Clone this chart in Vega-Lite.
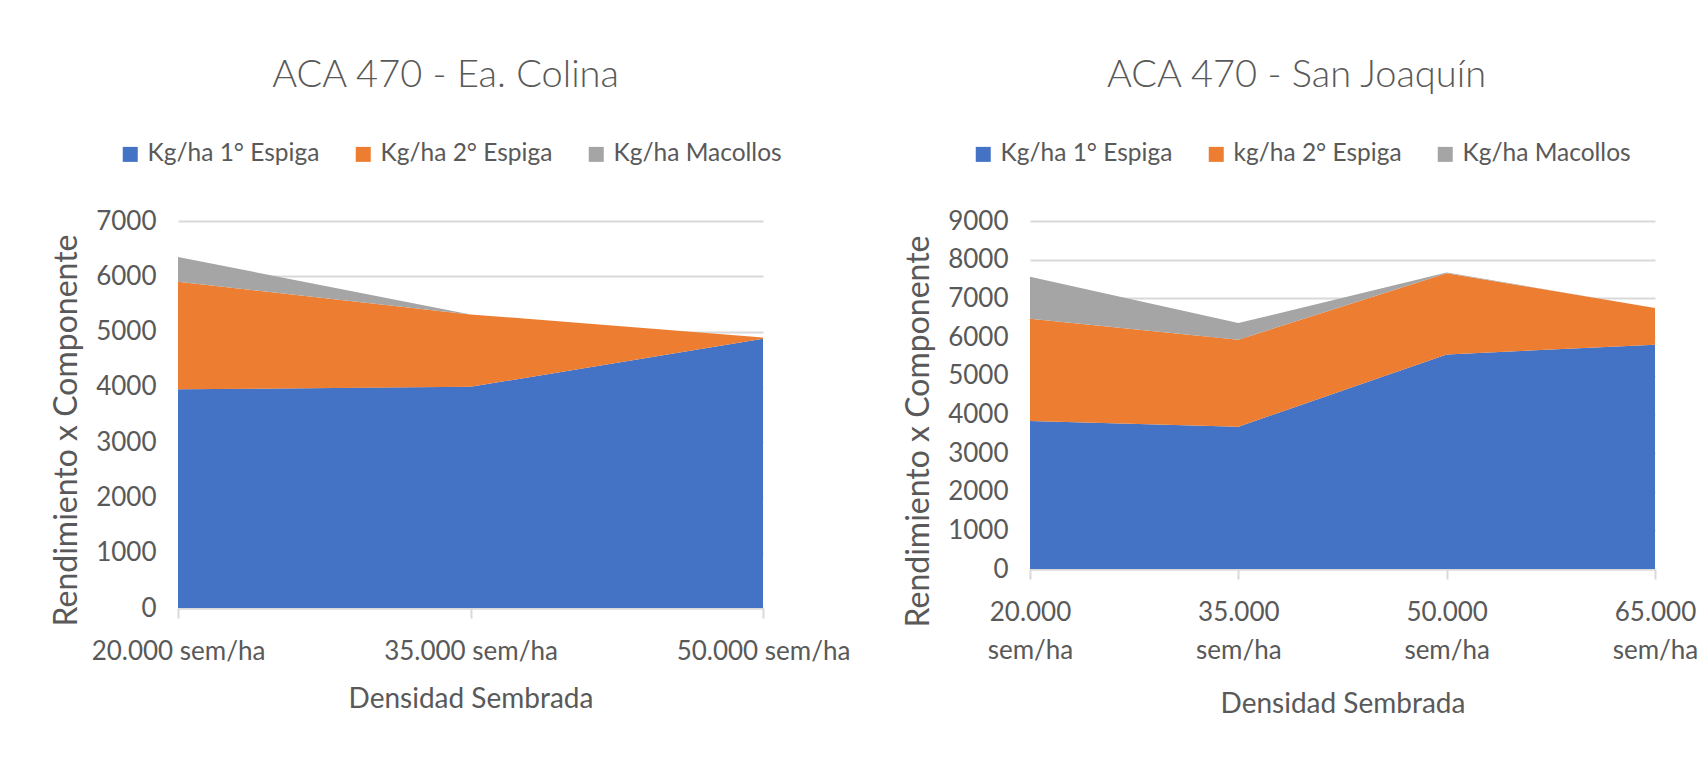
{
  "$schema": "https://vega.github.io/schema/vega-lite/v6.json",
  "background": "white",
  "padding": {"left": 50, "top": 57, "right": 0, "bottom": 0},
  "spacing": 52,
  "config": {
    "font": "Lato",
    "view": {"stroke": null},
    "axis": {
      "labelColor": "#595959",
      "titleColor": "#595959",
      "labelFont": "Lato",
      "titleFont": "Lato",
      "gridColor": "#D9D9D9",
      "gridWidth": 2,
      "domainColor": "#D9D9D9",
      "domainWidth": 2,
      "tickColor": "#D9D9D9",
      "tickWidth": 2
    },
    "title": {"font": "Lato", "fontSize": 38, "fontWeight": 300, "color": "#595959"},
    "legend": {
      "orient": "none",
      "direction": "horizontal",
      "columns": 3,
      "symbolType": "square",
      "symbolSize": 225,
      "symbolStrokeWidth": 0,
      "labelFont": "Lato",
      "labelFontSize": 24.5,
      "labelColor": "#595959",
      "labelOffset": 5,
      "labelLimit": 400,
      "columnPadding": 31,
      "title": null
    }
  },
  "resolve": {
    "scale": {"color": "independent", "y": "independent", "x": "independent"},
    "legend": {"color": "independent"}
  },
  "hconcat": [
    {
      "title": {"text": "ACA 470 - Ea. Colina", "anchor": "middle", "frame": "group", "offset": 47, "dx": -25},
      "width": 585,
      "height": 387,
      "data": {
        "values": [
          {"densidad": "20.000 sem/ha", "serie": "Kg/ha 1° Espiga", "orden": 1, "kg": 3955},
          {"densidad": "20.000 sem/ha", "serie": "Kg/ha 2° Espiga", "orden": 2, "kg": 1945},
          {"densidad": "20.000 sem/ha", "serie": "Kg/ha Macollos", "orden": 3, "kg": 450},
          {"densidad": "35.000 sem/ha", "serie": "Kg/ha 1° Espiga", "orden": 1, "kg": 4000},
          {"densidad": "35.000 sem/ha", "serie": "Kg/ha 2° Espiga", "orden": 2, "kg": 1310},
          {"densidad": "35.000 sem/ha", "serie": "Kg/ha Macollos", "orden": 3, "kg": 0},
          {"densidad": "50.000 sem/ha", "serie": "Kg/ha 1° Espiga", "orden": 1, "kg": 4870},
          {"densidad": "50.000 sem/ha", "serie": "Kg/ha 2° Espiga", "orden": 2, "kg": 25},
          {"densidad": "50.000 sem/ha", "serie": "Kg/ha Macollos", "orden": 3, "kg": 0}
        ]
      },
      "mark": {"type": "area"},
      "encoding": {
        "x": {
          "field": "densidad", "type": "ordinal", "sort": null,
          "scale": {"type": "point", "padding": 0},
          "axis": {"title": "Densidad Sembrada", "labelAngle": 0, "grid": false, "tickSize": 10, "labelPadding": 20, "titlePadding": 21, "labelFontSize": 26, "titleFontSize": 28, "titleFontWeight": "normal"}
        },
        "y": {
          "field": "kg", "type": "quantitative", "stack": "zero",
          "scale": {"domain": [0, 7000]},
          "axis": {"title": "Rendimiento x Componente", "values": [0, 1000, 2000, 3000, 4000, 5000, 6000, 7000], "format": "d", "domain": false, "ticks": false, "labelPadding": 22, "titlePadding": 12, "titleY": 209, "labelFontSize": 26, "titleFontSize": 32, "titleFontWeight": "normal"}
        },
        "color": {
          "field": "serie", "type": "nominal", "sort": null,
          "scale": {"domain": ["Kg/ha 1° Espiga", "Kg/ha 2° Espiga", "Kg/ha Macollos"], "range": ["#4472C4", "#ED7D31", "#A5A5A5"]},
          "legend": {"legendX": -60, "legendY": -79}
        },
        "order": {"field": "orden", "type": "quantitative"}
      }
    },
    {
      "title": {"text": "ACA 470 - San Joaquín", "anchor": "middle", "frame": "group", "offset": 47, "dx": -46},
      "width": 625,
      "height": 348,
      "data": {
        "values": [
          {"densidad": "20.000 sem/ha", "serie": "Kg/ha 1° Espiga", "orden": 1, "kg": 3830},
          {"densidad": "20.000 sem/ha", "serie": "kg/ha 2° Espiga", "orden": 2, "kg": 2640},
          {"densidad": "20.000 sem/ha", "serie": "Kg/ha Macollos", "orden": 3, "kg": 1090},
          {"densidad": "35.000 sem/ha", "serie": "Kg/ha 1° Espiga", "orden": 1, "kg": 3680},
          {"densidad": "35.000 sem/ha", "serie": "kg/ha 2° Espiga", "orden": 2, "kg": 2250},
          {"densidad": "35.000 sem/ha", "serie": "Kg/ha Macollos", "orden": 3, "kg": 430},
          {"densidad": "50.000 sem/ha", "serie": "Kg/ha 1° Espiga", "orden": 1, "kg": 5550},
          {"densidad": "50.000 sem/ha", "serie": "kg/ha 2° Espiga", "orden": 2, "kg": 2100},
          {"densidad": "50.000 sem/ha", "serie": "Kg/ha Macollos", "orden": 3, "kg": 20},
          {"densidad": "65.000 sem/ha", "serie": "Kg/ha 1° Espiga", "orden": 1, "kg": 5800},
          {"densidad": "65.000 sem/ha", "serie": "kg/ha 2° Espiga", "orden": 2, "kg": 950},
          {"densidad": "65.000 sem/ha", "serie": "Kg/ha Macollos", "orden": 3, "kg": 0}
        ]
      },
      "mark": {"type": "area"},
      "encoding": {
        "x": {
          "field": "densidad", "type": "ordinal", "sort": null,
          "scale": {"type": "point", "padding": 0},
          "axis": {"title": "Densidad Sembrada", "labelAngle": 0, "grid": false, "tickSize": 10, "labelPadding": 20, "labelExpr": "split(datum.label, ' ')", "labelLineHeight": 38, "titlePadding": 27, "labelFontSize": 26, "titleFontSize": 28, "titleFontWeight": "normal"}
        },
        "y": {
          "field": "kg", "type": "quantitative", "stack": "zero",
          "scale": {"domain": [0, 9000]},
          "axis": {"title": "Rendimiento x Componente", "values": [0, 1000, 2000, 3000, 4000, 5000, 6000, 7000, 8000, 9000], "format": "d", "domain": false, "ticks": false, "labelPadding": 22, "titlePadding": 12, "titleY": 210, "labelFontSize": 26, "titleFontSize": 32, "titleFontWeight": "normal"}
        },
        "color": {
          "field": "serie", "type": "nominal", "sort": null,
          "scale": {"domain": ["Kg/ha 1° Espiga", "kg/ha 2° Espiga", "Kg/ha Macollos"], "range": ["#4472C4", "#ED7D31", "#A5A5A5"]},
          "legend": {"legendX": -59, "legendY": -79}
        },
        "order": {"field": "orden", "type": "quantitative"}
      }
    }
  ]
}
